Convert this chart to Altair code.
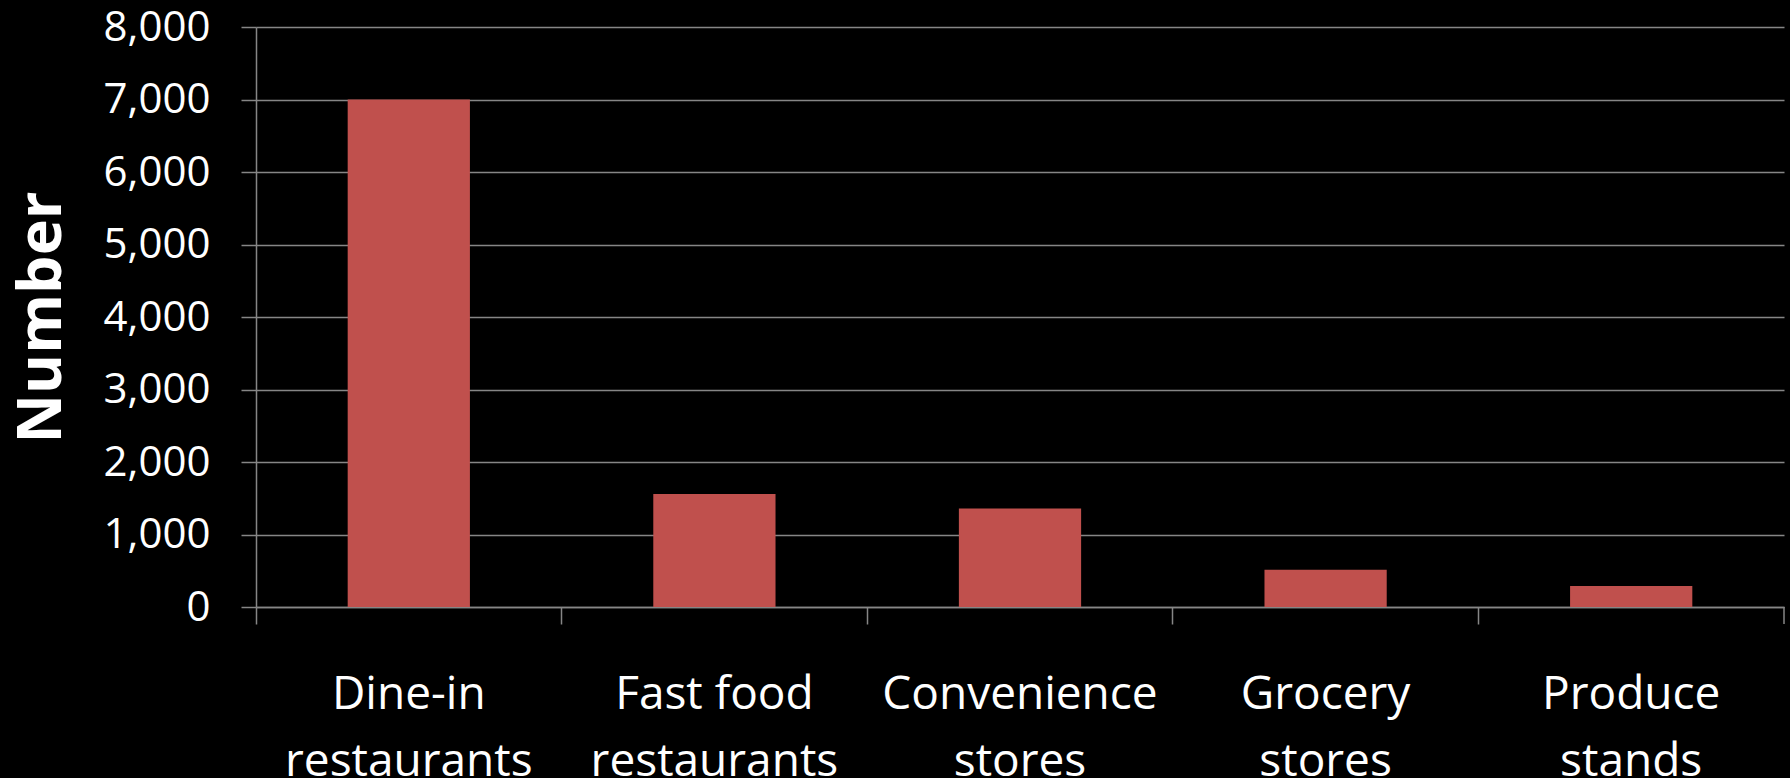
import altair as alt
import pandas as pd

# Outlet types and counts
categories = [
    "Dine-in restaurants",
    "Fast food restaurants",
    "Convenience stores",
    "Grocery stores",
    "Produce stands",
]
counts = [7000, 1560, 1360, 515, 290]
y_ticks = [0, 1000, 2000, 3000, 4000, 5000, 6000, 7000, 8000]

W, H = 1528, 580
GRID = "#868686"
BAR = "#C0504D"
FONT = "Open Sans"

df = pd.DataFrame({"category": categories, "count": counts})

bars = alt.Chart(df).mark_bar(color=BAR, width=alt.RelativeBandSize(0.4)).encode(
    x=alt.X(
        "category:N",
        sort=categories,
        scale=alt.Scale(paddingInner=0, paddingOuter=0),
        axis=alt.Axis(
            title=None,
            bandPosition=0,
            labelAngle=0,
            labelAlign="center",
            labelBaseline="alphabetic",
            labelFont=FONT,
            labelFontSize=46,
            labelColor="white",
            labelLineHeight=67,
            labelPadding=84,
            labelLimit=0,
            labelExpr="[slice(datum.value, 0, lastindexof(datum.value, ' ')), "
                      "slice(datum.value, lastindexof(datum.value, ' ') + 1)]",
            tickSize=17,
            tickColor=GRID,
            tickWidth=1.5,
            domainColor=GRID,
            domainWidth=1.5,
            grid=False,
        ),
    ),
    y=alt.Y(
        "count:Q",
        scale=alt.Scale(domain=[0, 8000], nice=False),
        axis=alt.Axis(
            values=y_ticks,
            format=",.0f",
            title="Number",
            titleFont=FONT,
            titleFontSize=61,
            titleFontWeight="bold",
            titleColor="white",
            titleAngle=-90,
            titleX=-196,
            titleY=H / 2,
            titleAlign="center",
            titleBaseline="alphabetic",
            labelFont=FONT,
            labelFontSize=42,
            labelColor="white",
            labelPadding=31,
            tickSize=15,
            tickColor=GRID,
            tickWidth=1.5,
            domainColor=GRID,
            domainWidth=1.5,
            grid=True,
            gridColor=GRID,
            gridWidth=1.5,
        ),
    ),
)

# closing tick at the right end of the category axis
end_tick = alt.Chart(pd.DataFrame({"k": [0]})).mark_rule(
    color=GRID, strokeWidth=1.5
).encode(x=alt.value(W), y=alt.value(H), y2=alt.value(H + 17))

chart = (
    alt.layer(bars, end_tick)
    .properties(
        width=W,
        height=H,
        autosize=alt.AutoSizeParams(type="none"),
        padding={"left": 256, "top": 27, "right": 6, "bottom": 171},
        background="black",
    )
    .configure_view(stroke=None)
)

chart.save("out.html", embed_options={"renderer": "svg", "actions": False})
